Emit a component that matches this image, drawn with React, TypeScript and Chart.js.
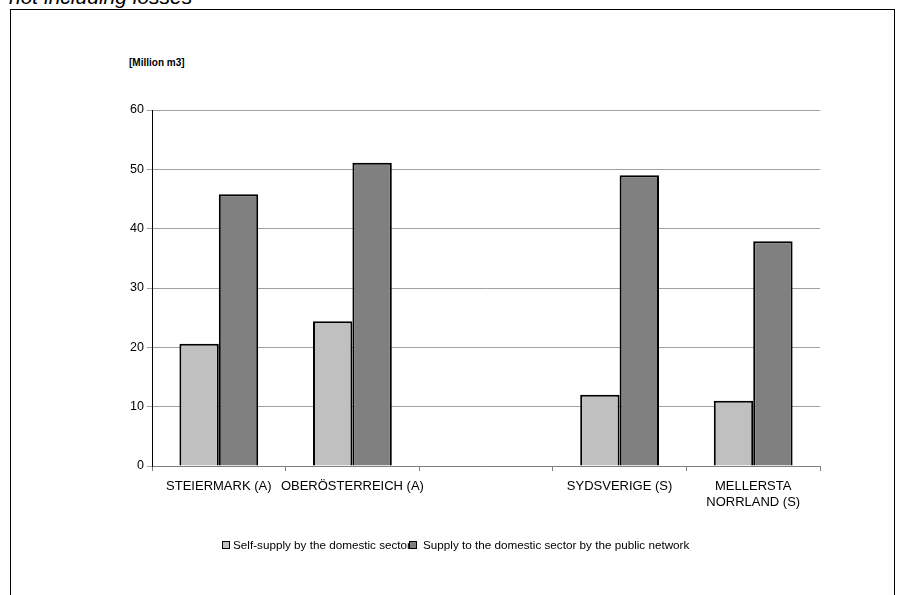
import React, { useEffect, useRef } from "react";
import { Chart, registerables } from "chart.js";

Chart.register(...registerables);

const categories: (string | string[])[] = [
  "STEIERMARK (A)",
  "OBERÖSTERREICH (A)",
  "",
  "SYDSVERIGE (S)",
  ["MELLERSTA", "NORRLAND (S)"],
];
const selfSupply: (number | null)[] = [20.6, 24.4, null, 12.0, 11.0];
const publicSupply: (number | null)[] = [45.8, 51.1, null, 49.0, 37.9];
const seriesNames = [
  "Self-supply by the domestic sector",
  "Supply to the domestic sector by the public network",
];
const yTicks = [0, 10, 20, 30, 40, 50, 60];

const FONT = "Arial, 'Liberation Sans', sans-serif";

export default function App() {
  const ref = useRef<HTMLCanvasElement | null>(null);
  useEffect(() => {
    document.body.style.margin = "0";
    if (!ref.current) return;
    const chart = new Chart(ref.current, {
      type: "bar",
      data: {
        labels: categories,
        datasets: [
          {
            label: seriesNames[0],
            data: selfSupply,
            backgroundColor: "#C0C0C0",
            borderColor: "#000",
            borderWidth: 2,
            categoryPercentage: 0.59,
            barPercentage: 1,
          },
          {
            label: seriesNames[1],
            data: publicSupply,
            backgroundColor: "#808080",
            borderColor: "#000",
            borderWidth: 2,
            categoryPercentage: 0.59,
            barPercentage: 1,
          },
        ],
      },
      options: {
        responsive: false,
        animation: false,
        layout: { padding: { left: 0, right: 78, top: 110, bottom: 0 } },
        plugins: {
          legend: { display: false },
          tooltip: { enabled: false },
          title: { display: false },
        },
        scales: {
          x: {
            offset: true,
            grid: {
              offset: true,
              drawOnChartArea: false,
              drawTicks: true,
              tickLength: 5,
              color: "#808080",
            },
            border: { color: "#808080", width: 1 },
            ticks: {
              color: "#000",
              font: { family: FONT, size: 13, lineHeight: 1.23 },
              padding: 7,
              maxRotation: 0,
              autoSkip: false,
            },
            afterFit: (s: any) => {
              s.height = 595 - 466;
            },
          },
          y: {
            min: 0,
            max: 60,
            afterBuildTicks: (s: any) => {
              s.ticks = yTicks.map((v) => ({ value: v }));
            },
            grid: {
              color: "#a0a0a0",
              drawTicks: true,
              tickLength: 5,
            },
            border: { color: "#000", width: 1 },
            ticks: {
              color: "#000",
              font: { family: FONT, size: 12.5 },
              padding: 3,
            },
            afterFit: (s: any) => {
              s.width = 152;
            },
          },
        },
      },
    });
    return () => chart.destroy();
  }, []);

  const legendText: React.CSSProperties = {
    position: "absolute",
    top: 538,
    lineHeight: "14px",
    fontFamily: FONT,
    fontSize: 11.7,
    color: "#000",
    whiteSpace: "nowrap",
  };
  const box = (bg: string, left: number): React.CSSProperties => ({
    position: "absolute",
    left,
    top: 541,
    width: 8,
    height: 8,
    background: bg,
    border: "1.5px solid #000",
    boxSizing: "border-box",
  });

  return (
    <div
      style={{
        position: "fixed",
        left: 0,
        top: 0,
        width: 898,
        height: 595,
        background: "#fff",
        overflow: "hidden",
      }}
    >
      <div
        style={{
          position: "absolute",
          left: 10,
          top: 9,
          width: 885,
          height: 600,
          border: "1px solid #000",
          boxSizing: "border-box",
        }}
      />
      <div
        style={{
          position: "absolute",
          left: 9,
          top: -14,
          fontFamily: FONT,
          fontStyle: "italic",
          fontSize: 21,
          lineHeight: "21px",
          color: "#000",
          whiteSpace: "nowrap",
        }}
      >
        not including losses
      </div>
      <div
        style={{
          position: "absolute",
          left: 129,
          top: 57,
          lineHeight: "12px",
          fontFamily: FONT,
          fontWeight: "bold",
          fontSize: 10,
          color: "#000",
          whiteSpace: "nowrap",
        }}
      >
        [Million m3]
      </div>
      <canvas
        ref={ref}
        width={898}
        height={595}
        style={{ position: "absolute", left: 0, top: 0 }}
      />
      <div style={{ ...legendText, left: 233 }}>{seriesNames[0]}</div>
      <div style={box("#C0C0C0", 222)} />
      <div style={box("#808080", 409)} />
      <div style={{ ...legendText, left: 423 }}>{seriesNames[1]}</div>
    </div>
  );
}
